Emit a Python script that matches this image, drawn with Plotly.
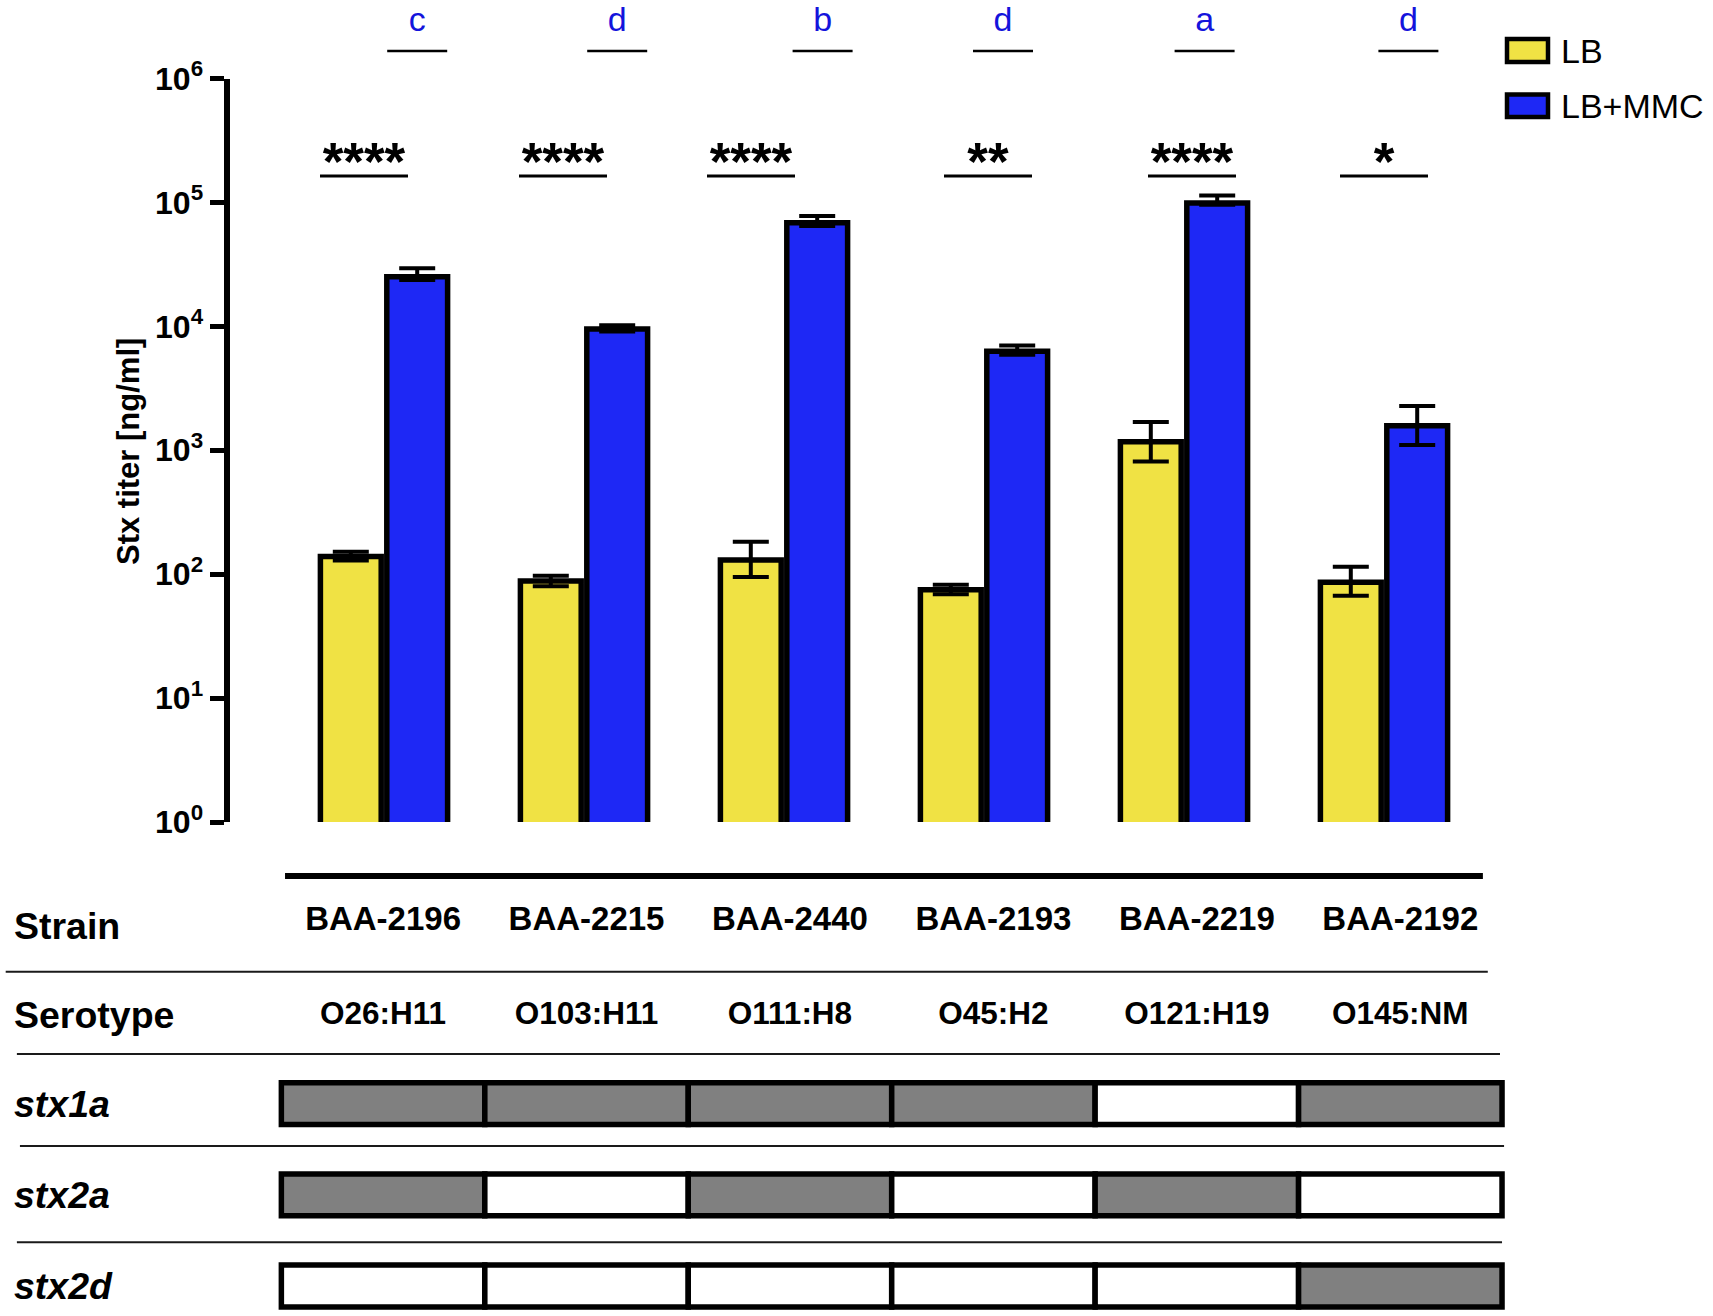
import plotly.graph_objects as go

# ---------------- data ----------------
strains = ["BAA-2196", "BAA-2215", "BAA-2440", "BAA-2193", "BAA-2219", "BAA-2192"]
serotypes = ["O26:H11", "O103:H11", "O111:H8", "O45:H2", "O121:H19", "O145:NM"]

lb_mean = [139, 88, 130, 75, 1170, 86]
lb_err_plus = [13, 9, 53, 7, 520, 29]
lb_err_minus = [10, 8, 35, 6, 360, 19]

mmc_mean = [25100, 9500, 68600, 6300, 98700, 1580]
mmc_err_plus = [4300, 700, 9200, 700, 14800, 700]
mmc_err_minus = [1500, 400, 4000, 400, 3000, 475]

sig_stars = ["****", "****", "****", "**", "****", "*"]
group_letters = ["c", "d", "b", "d", "a", "d"]

stx1a = [1, 1, 1, 1, 0, 1]
stx2a = [1, 0, 1, 0, 1, 0]
stx2d = [0, 0, 0, 0, 0, 1]
gene_rows = [("stx1a", stx1a), ("stx2a", stx2a), ("stx2d", stx2d)]

# ---------------- style ----------------
W, H = 1713, 1316
FONT = "Liberation Sans"
YELLOW = "#F0E244"
BLUE = "#1E28F5"
LETTER_BLUE = "#1414DC"
GRAY = "#808080"
BAR_W = 0.304
BORDER = 5.5
sig_shift = [-0.10, -0.105, -0.165, 0.02, 0.04, 0.0]       # horizontal nudge of significance bars
letter_shift = [0.0, 0.0, 0.027, -0.071, -0.063, -0.044]   # horizontal nudge of letter marks

gx = list(range(len(strains)))

fig = go.Figure()

# main bars
fig.add_trace(go.Bar(
    name="LB", x=gx, y=lb_mean, offset=-0.318, width=BAR_W,
    marker=dict(color=YELLOW, line=dict(color="black", width=BORDER)),
    error_y=dict(type="data", symmetric=False, array=lb_err_plus, arrayminus=lb_err_minus,
                 color="black", thickness=4, width=18),
    xaxis="x", yaxis="y", showlegend=False))
fig.add_trace(go.Bar(
    name="LB+MMC", x=gx, y=mmc_mean, offset=0.014, width=BAR_W,
    marker=dict(color=BLUE, line=dict(color="black", width=BORDER)),
    error_y=dict(type="data", symmetric=False, array=mmc_err_plus, arrayminus=mmc_err_minus,
                 color="black", thickness=4, width=18),
    xaxis="x", yaxis="y", showlegend=False))

# significance bars + stars
Y_SIG_LINE = 10 ** 5.214
Y_SIG_TEXT = 10 ** 5.29
sx, sy = [], []
for g, s in zip(gx, sig_shift):
    sx += [g + s - 0.22, g + s + 0.22, None]
    sy += [Y_SIG_LINE, Y_SIG_LINE, None]
fig.add_trace(go.Scatter(x=sx, y=sy, mode="lines", line=dict(color="black", width=3),
                         xaxis="x", yaxis="y", showlegend=False, hoverinfo="skip"))
fig.add_trace(go.Scatter(x=[g + s for g, s in zip(gx, sig_shift)], y=[Y_SIG_TEXT] * len(gx),
                         mode="text", text=sig_stars, cliponaxis=False,
                         textfont=dict(family=FONT, size=53, color="black", weight="bold"),
                         textposition="middle center", xaxis="x", yaxis="y",
                         showlegend=False, hoverinfo="skip"))

# letters above the blue bars (top strip)
mmc_center = 0.014 + BAR_W / 2
lx, ly = [], []
for g, s in zip(gx, letter_shift):
    lx += [g + s + mmc_center - 0.15, g + s + mmc_center + 0.15, None]
    ly += [0.35, 0.35, None]
fig.add_trace(go.Scatter(x=lx, y=ly, mode="lines", line=dict(color="black", width=2.5),
                         xaxis="x3", yaxis="y3", showlegend=False, hoverinfo="skip"))
fig.add_trace(go.Scatter(x=[g + s + mmc_center for g, s in zip(gx, letter_shift)],
                         y=[0.71] * len(gx), mode="text",
                         text=group_letters, cliponaxis=False,
                         textfont=dict(family=FONT, size=34, color=LETTER_BLUE),
                         textposition="middle center", xaxis="x3", yaxis="y3",
                         showlegend=False, hoverinfo="skip"))

# table: gene presence cells
CELL_H = 0.459
for r, (gname, vals) in enumerate(gene_rows):
    row = r + 2
    fig.add_trace(go.Bar(
        x=gx, y=[CELL_H] * len(gx), base=[row - CELL_H / 2] * len(gx), width=1,
        marker=dict(color=[GRAY if v else "white" for v in vals],
                    line=dict(color="black", width=BORDER)),
        xaxis="x2", yaxis="y2", showlegend=False, hoverinfo="skip", name=gname))

# table text rows
fig.add_trace(go.Scatter(x=gx, y=[0] * len(gx), mode="text", text=strains, cliponaxis=False,
                         textfont=dict(family=FONT, size=33, color="black", weight="bold"),
                         textposition="middle center", xaxis="x2", yaxis="y2",
                         showlegend=False, hoverinfo="skip"))
fig.add_trace(go.Scatter(x=gx, y=[1.04] * len(gx), mode="text", text=serotypes, cliponaxis=False,
                         textfont=dict(family=FONT, size=31.5, color="black", weight="bold"),
                         textposition="middle center", xaxis="x2", yaxis="y2",
                         showlegend=False, hoverinfo="skip"))

# table rules
shapes = [dict(type="line", xref="x2", yref="y2", x0=-0.482, x1=5.406, y0=-0.498, y1=-0.498,
               line=dict(color="black", width=6))]
for x0, x1, y in [(-1.855, 5.43, 0.552), (-1.80, 5.49, 1.455), (-1.785, 5.51, 2.464), (-1.80, 5.50, 3.52)]:
    shapes.append(dict(type="line", xref="x2", yref="y2", x0=x0, x1=x1, y0=y, y1=y,
                       line=dict(color="#1a1a1a", width=2)))

# custom legend
for (y0, y1, col) in [(39, 62, YELLOW), (94.5, 117, BLUE)]:
    shapes.append(dict(type="rect", xref="paper", yref="paper",
                       x0=1507 / W, x1=1548 / W, y0=1 - y1 / H, y1=1 - y0 / H,
                       fillcolor=col, line=dict(color="black", width=4.5)))

annotations = [
    dict(text="LB", x=1559 / W, y=1 - 50.5 / H, xref="paper", yref="paper", xanchor="left",
         yanchor="middle", showarrow=False, font=dict(family=FONT, size=34, color="black")),
    dict(text="LB+MMC", x=1559 / W, y=1 - 106 / H, xref="paper", yref="paper", xanchor="left",
         yanchor="middle", showarrow=False, font=dict(family=FONT, size=34, color="black")),
    dict(text="<b>Stx titer [ng/ml]</b>", x=128 / W, y=1 - 452 / H, xref="paper", yref="paper",
         textangle=-90, xanchor="center", yanchor="middle", showarrow=False,
         font=dict(family=FONT, size=31, color="black")),
]
row_labels = [("<b>Strain</b>", 0.05), ("<b>Serotype</b>", 1.03),
              ("<b><i>stx1a</i></b>", 2), ("<b><i>stx2a</i></b>", 3), ("<b><i>stx2d</i></b>", 4)]
for txt, y in row_labels:
    annotations.append(dict(text=txt, x=-1.825, y=y, xref="x2", yref="y2", xanchor="left",
                            yanchor="middle", showarrow=False,
                            font=dict(family=FONT, size=37.5, color="black")))

tickvals = [10 ** k for k in range(7)]
ticktext = ["<b>10<sup>%d</sup></b>" % k for k in range(7)]

x_dom = [229.5 / W, 1500 / W]
x_rng = [-0.7725, 5.58]

fig.update_layout(
    width=W, height=H, autosize=False,
    margin=dict(l=0, r=0, t=0, b=0, pad=0, autoexpand=False),
    paper_bgcolor="white", plot_bgcolor="rgba(0,0,0,0)",
    barmode="overlay", showlegend=False,
    font=dict(family=FONT, color="black"),
    xaxis=dict(domain=x_dom, range=x_rng, visible=False, anchor="y", automargin=False),
    yaxis=dict(domain=[1 - 822 / H, 1 - 78.5 / H], type="log", range=[0, 6],
               tickvals=tickvals, ticktext=ticktext, ticks="outside", ticklen=14,
               tickwidth=5, tickcolor="black", showline=True, linewidth=6, linecolor="black",
               showgrid=False, zeroline=False, anchor="x", automargin=False,
               tickfont=dict(family=FONT, size=32, color="black")),
    xaxis2=dict(domain=[0, 1], range=[-1.883, 6.537], visible=False, anchor="y2", automargin=False),
    yaxis2=dict(domain=[0, 1 - 850 / H], range=[4.329, -0.783], visible=False, anchor="x2",
                automargin=False),
    xaxis3=dict(domain=x_dom, range=x_rng, visible=False, anchor="y3", automargin=False),
    yaxis3=dict(domain=[1 - 78.5 / H, 1], range=[0, 1], visible=False, anchor="x3",
                automargin=False),
    shapes=shapes, annotations=annotations,
)

fig.write_html("out.html", config={"displayModeBar": False},
               post_script="document.body.style.margin='0';document.body.style.overflow='hidden';")
